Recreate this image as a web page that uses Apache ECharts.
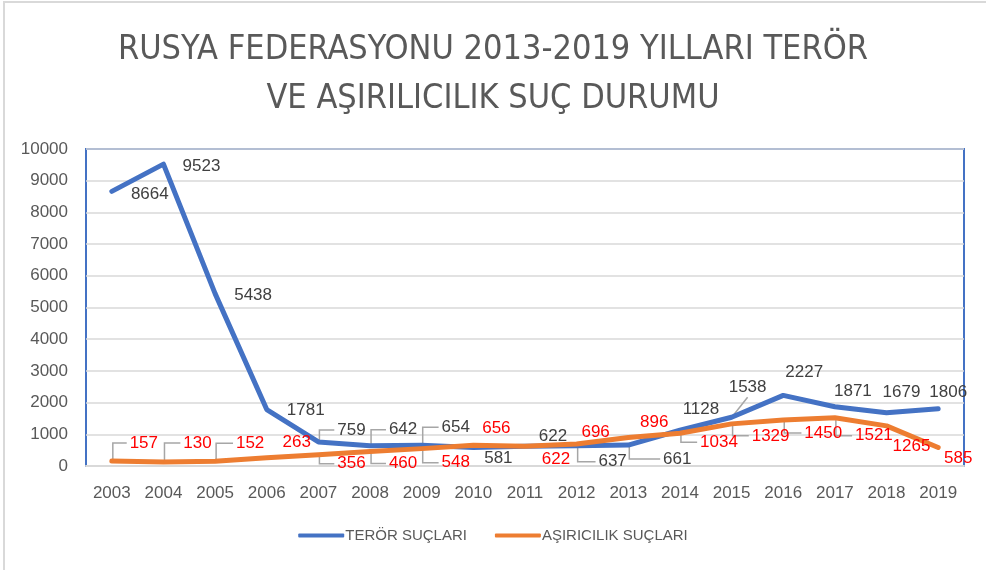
<!DOCTYPE html>
<html>
<head>
<meta charset="utf-8">
<script src="https://cdn.jsdelivr.net/npm/echarts@6/dist/echarts.min.js"></script>
<style>
  html, body { margin: 0; padding: 0; background: #fff; }
  #main { width: 986px; height: 570px; }
</style>
</head>
<body>
<div id="main"></div>
<script>
var years = ['2003', '2004', '2005', '2006', '2007', '2008', '2009', '2010', '2011', '2012', '2013', '2014', '2015', '2016', '2017', '2018', '2019'];
var terorValues = [8664, 9523, 5438, 1781, 759, 642, 654, 581, 622, 637, 661, 1128, 1538, 2227, 1871, 1679, 1806];
var asiriValues = [157, 130, 152, 263, 356, 460, 548, 656, 622, 696, 896, 1034, 1329, 1450, 1521, 1265, 585];

// label offsets (px) from each point, like the excel sheet had them dragged
var terorOffsets = [[38, 3], [38, 2], [38, 2], [39, 1], [33, -12], [33, -16], [34, -18], [25, 11], [28, -10], [36, 16], [49, 14], [21, -21], [16, -30], [21, -23], [18, -15], [15, -20], [10, -16]];
var asiriOffsets = [[32, -18], [34, -19], [35, -18], [30, -15], [33, 9], [33, 12], [34, 14], [23, -17], [31, 13], [19, -12], [26, -15], [39, 9], [39, 12], [40, 13], [39, 18], [25, 20], [20, 11]];
// which labels have a leader line
var terorLeader = [0, 0, 0, 0, 1, 1, 1, 0, 0, 1, 1, 0, 1, 0, 0, 0, 0];
var asiriLeader = [1, 1, 1, 0, 1, 1, 1, 0, 0, 0, 0, 1, 1, 1, 1, 0, 0];

var fontFam = '"Liberation Sans", Arial, sans-serif';

function buildData(values, offsets, color) {
  return values.map(function (v, i) {
    return {
      value: v,
      label: {
        show: true,
        position: 'inside',
        offset: offsets[i],
        color: color,
        fontSize: 17,
        fontFamily: fontFam
      }
    };
  });
}

// rows for leader lines: [index, value, dx, dy, digit count]
function leaderRows(values, offsets, leaders) {
  var rows = [];
  values.forEach(function (v, i) {
    if (leaders[i] == 1) {
      rows.push([i, v, offsets[i][0], offsets[i][1], String(v).length]);
    }
  });
  return rows;
}

function renderLeader(params, api) {
  var p = api.coord([api.value(0), api.value(1)]);
  var dx = api.value(2);
  var dy = api.value(3);
  var half = api.value(4) * 4.7;
  var cx = p[0] + dx;
  var cy = p[1] + dy;
  var lx = cx - half - 3;
  var pts;
  if (lx > p[0] + 5) {
    pts = [[p[0] + 1, p[1]], [p[0] + 1, cy], [lx, cy]];
  } else {
    pts = [[p[0] + 1, p[1] - 1], [cx, cy + 10]];
  }
  return {
    type: 'polyline',
    shape: { points: pts },
    style: { stroke: '#A6A6A6', lineWidth: 1.5, fill: null },
    silent: true
  };
}

let chart = echarts.init(document.getElementById('main'), null, { renderer: 'canvas' });

let options = {
  animation: false,
  backgroundColor: '#fff',
  title: {
    text: 'RUSYA FEDERASYONU 2013-2019 YILLARI TERÖR\nVE AŞIRILICILIK SUÇ DURUMU',
    left: 'center',
    top: 21,
    textStyle: {
      color: '#595959',
      fontSize: 34,
      fontWeight: 'normal',
      fontFamily: '"DejaVu Sans Condensed", sans-serif',
      lineHeight: 49
    }
  },
  graphic: [{
    type: 'rect',
    shape: { x: 4, y: 2, width: 1000, height: 600 },
    style: { fill: 'none', stroke: '#D9D9D9', lineWidth: 2 },
    silent: true
  }],
  legend: {
    bottom: 22,
    left: 'center',
    itemWidth: 46,
    itemHeight: 4,
    itemGap: 28,
    icon: 'roundRect',
    textStyle: { color: '#595959', fontSize: 15, fontFamily: fontFam, padding: [0, 0, 0, -4] },
    data: ['TERÖR SUÇLARI', 'AŞIRICILIK SUÇLARI']
  },
  grid: {
    left: 86,
    right: 22,
    top: 149,
    bottom: 104,
    show: true,
    borderColor: '#4472C4',
    borderWidth: 2
  },
  xAxis: {
    type: 'category',
    data: years,
    z: 3,
    axisLine: { lineStyle: { color: '#D9D9D9', width: 2 } },
    axisTick: { show: false },
    axisLabel: { color: '#595959', fontSize: 17, fontFamily: fontFam, margin: 19 }
  },
  yAxis: {
    type: 'value',
    min: 0,
    max: 10000,
    interval: 1000,
    axisLine: { show: false },
    axisTick: { show: false },
    axisLabel: {
      color: '#595959', fontSize: 17, fontFamily: fontFam, margin: 18,
      formatter: function (v) { return String(v); }
    },
    splitLine: { lineStyle: { color: '#D9D9D9', width: 1.5 } }
  },
  series: [
    {
      name: 'leaders1',
      type: 'custom',
      renderItem: renderLeader,
      data: leaderRows(terorValues, terorOffsets, terorLeader),
      z: 2,
      silent: true
    },
    {
      name: 'leaders2',
      type: 'custom',
      renderItem: renderLeader,
      data: leaderRows(asiriValues, asiriOffsets, asiriLeader),
      z: 2,
      silent: true
    },
    {
      name: 'TERÖR SUÇLARI',
      type: 'line',
      data: buildData(terorValues, terorOffsets, '#404040'),
      symbol: 'circle',
      symbolSize: 1,
      itemStyle: { color: '#4472C4' },
      lineStyle: { color: '#4472C4', width: 5, cap: 'round', join: 'round' },
      z: 3
    },
    {
      name: 'AŞIRICILIK SUÇLARI',
      type: 'line',
      data: buildData(asiriValues, asiriOffsets, '#FF0000'),
      symbol: 'circle',
      symbolSize: 1,
      itemStyle: { color: '#ED7D31' },
      lineStyle: { color: '#ED7D31', width: 5, cap: 'round', join: 'round' },
      z: 4
    }
  ]
};

chart.setOption(options);
</script>
</body>
</html>
